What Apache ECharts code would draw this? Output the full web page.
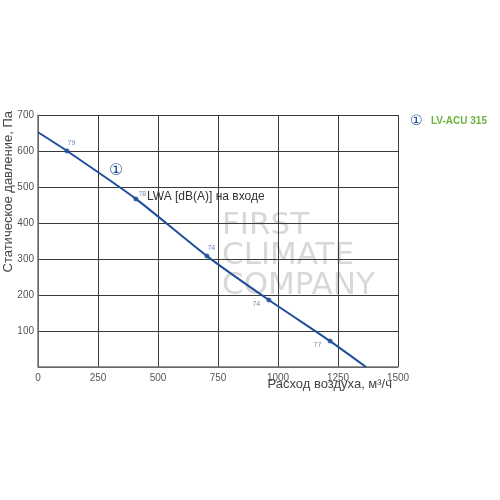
<!DOCTYPE html>
<html>
<head>
<meta charset="utf-8">
<script src="https://cdn.jsdelivr.net/npm/echarts@6/dist/echarts.min.js"></script>
<style>
  html, body { margin: 0; padding: 0; background: #fff; }
  #chart { width: 500px; height: 500px; }
</style>
</head>
<body>
<div id="chart"></div>
<script>
// curve LV-ACU 315 (airflow m3/h, pressure Pa)
const curveFlow = [0, 121, 408, 704, 962, 1217, 1367]
const curvePressure = [652, 600, 467, 308, 186, 72, 0]
// measuring points with sound power level
const pointFlow = [121, 408, 704, 962, 1217]
const pointPressure = [600, 467, 308, 186, 72]
const pointLwa = ['79', '78', '74', '74', '77']

const chart = echarts.init(document.getElementById('chart'))

const lineData = curveFlow.map((v, i) => [v, curvePressure[i]])
const pointData = pointFlow.map((v, i) => ({
  value: [v, pointPressure[i]],
  label: {
    position: i === 0 ? [3, -9] : i === 2 ? [3, -9] : i === 1 ? [5, -6] : [-14, 3],
    formatter: pointLwa[i]
  }
}))

chart.setOption({
  backgroundColor: '#fff',
  animation: false,
  grid: { left: 38, right: 102, top: 115, bottom: 133 },
  xAxis: {
    type: 'value',
    min: 0,
    max: 1500,
    interval: 250,
    axisLine: { show: true, lineStyle: { color: '#777', width: 1.5 } },
    axisTick: { show: false },
    axisLabel: { color: '#555', fontSize: 10, fontFamily: 'Liberation Sans', margin: 6, formatter: v => String(v) },
    splitLine: { show: true, lineStyle: { color: '#3a3a3a', width: 1 } }
  },
  yAxis: {
    type: 'value',
    min: 0,
    max: 700,
    interval: 100,
    axisLine: { show: true, lineStyle: { color: '#777', width: 1.5 } },
    axisTick: { show: false },
    axisLabel: {
      color: '#555', fontSize: 10, fontFamily: 'Liberation Sans', margin: 4,
      formatter: v => v === 0 ? '' : String(v)
    },
    splitLine: { show: true, lineStyle: { color: '#3a3a3a', width: 1 } }
  },
  graphic: [
    {
      type: 'group', z: 0, silent: true,
      children: [
        { type: 'text', left: 222, top: 210, style: { text: 'FIRST', fill: '#d8d8d8', font: '31px "DejaVu Sans"' } },
        { type: 'text', left: 222, top: 240, style: { text: 'CLIMATE', fill: '#d8d8d8', font: '31px "DejaVu Sans"' } },
        { type: 'text', left: 222, top: 270, style: { text: 'COMPANY', fill: '#d8d8d8', font: '31px "DejaVu Sans"' } }
      ]
    },
    {
      type: 'text', x: 8, y: 111, rotation: Math.PI / 2,
      style: { text: 'Статическое давление, Па', fill: '#444', font: '13px "Liberation Sans"', align: 'right', verticalAlign: 'middle' }
    },
    {
      type: 'text', x: 392, y: 378,
      style: { text: 'Расход воздуха, м³/ч', fill: '#444', font: '13px "Liberation Sans"', align: 'right', verticalAlign: 'top' }
    },
    {
      type: 'text', x: 109, y: 163,
      style: { text: '①', fill: '#1f4e9a', font: '16px "DejaVu Sans"' }
    },
    {
      type: 'text', x: 147, y: 191,
      style: { text: 'LWA [dB(A)] на входе', fill: '#333', font: '12px "Liberation Sans"' }
    },
    {
      type: 'text', x: 410, y: 114,
      style: { text: '①', fill: '#1f4e9a', font: '14px "DejaVu Sans"' }
    },
    {
      type: 'text', x: 431, y: 116,
      style: { text: 'LV-ACU 315', fill: '#6cb33f', font: 'bold 10px "Liberation Sans"' }
    }
  ],
  series: [
    {
      type: 'line',
      data: lineData,
      showSymbol: false,
      smooth: 0.2,
      z: 3,
      lineStyle: { color: '#1f4e9a', width: 2 }
    },
    {
      type: 'scatter',
      data: pointData,
      symbolSize: 5,
      z: 4,
      itemStyle: { color: '#1f4e9a' },
      label: { show: true, color: '#4a6fa5', fontSize: 7, fontFamily: 'Liberation Sans' }
    }
  ]
})
</script>
</body>
</html>
